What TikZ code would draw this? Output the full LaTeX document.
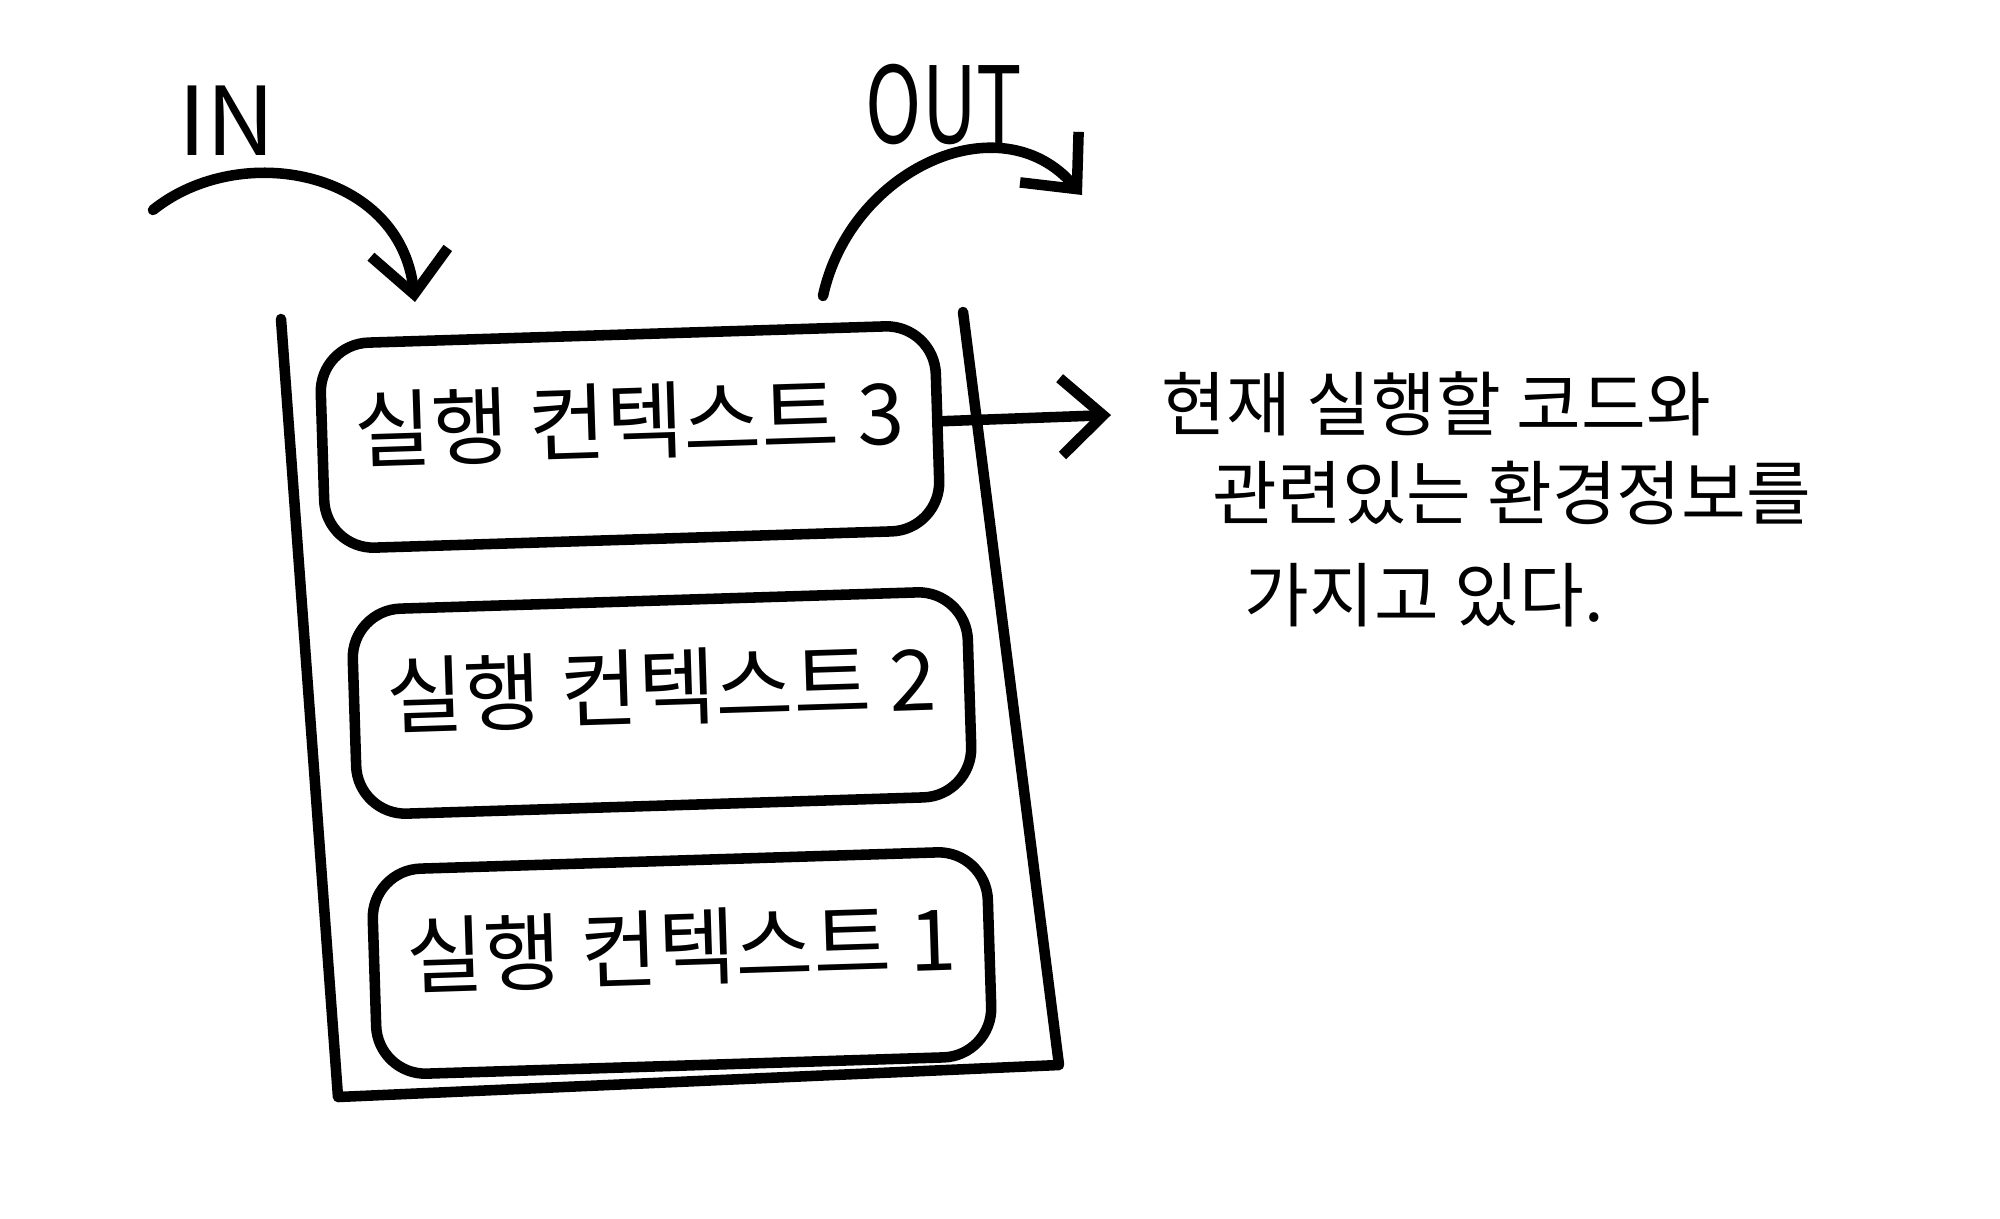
\documentclass[tikz,border=0pt]{standalone}
\usepackage{fontspec}
\setmainfont{Noto Sans CJK KR}
\usetikzlibrary{arrows.meta,calc}
\begin{document}
\begin{tikzpicture}[x=0.01cm,y=-0.01cm,
  ink/.style={line width=3pt, line cap=round, line join=round},
  ctx/.style={ink, draw, rounded corners=14pt, minimum width=6.15cm, minimum height=2.05cm,
    font=\fontsize{24}{28}\selectfont, inner sep=0pt, rotate=1.8,
    text height=21pt, text depth=12pt},
  note/.style={font=\fontsize{20}{24}\selectfont, anchor=west, inner sep=0pt},
  lbl/.style={font=\fontsize{27}{30}\selectfont, inner sep=0pt},
  tip/.style={-{Straight Barb[length=12pt,width=22pt,line width=3pt]}}
]
\useasboundingbox[fill=white] (0,0) rectangle (2000,1218);

% labels
\node[lbl] (in) at (227,121) {IN};
\node[lbl, xscale=0.8, yscale=1.12] (out) at (944,105) {OUT};

% stack container (open top)
\coordinate (stl) at (281,319);
\coordinate (sbl) at (338,1097);
\coordinate (sbr) at (1059,1065);
\coordinate (str) at (963,312);
\draw[ink] (stl) -- (sbl) -- (sbr) -- (str);

% execution contexts
\node[ctx] (c3) at (630,437) {실행 컨텍스트 3};
\node[ctx] (c2) at (662,703) {실행 컨텍스트 2};
\node[ctx] (c1) at (682,963) {실행 컨텍스트 1};

% IN arrow
\coordinate (inS) at (153,210);
\coordinate (inE) at (415,302);
\draw[ink,tip] (inS) .. controls (240,140) and (400,170) .. (inE);

% OUT arrow
\coordinate (outS) at (823,296);
\coordinate (outE) at (1082,195);
\draw[ink,tip] (outS) .. controls (850,170) and (1000,100) .. (outE);

% note
\node[note] (n1) at (1161,404) {현재 실행할 코드와};
\node[note] (n2) at (1212,493) {관련있는 환경정보를};
\node[note] (n3) at (1244,595) {가지고 있다.};

\draw[ink,tip] ($(c3.east)+(0,-6)$) -- ($(n1.west)+(-50,11)$);
\end{tikzpicture}
\end{document}
